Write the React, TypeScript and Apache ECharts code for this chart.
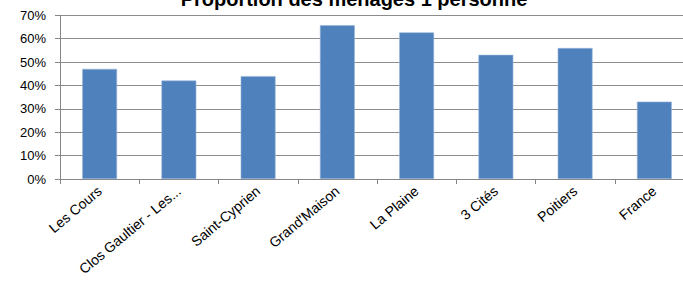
import React, { useEffect, useRef } from "react";
import * as echarts from "echarts";

const categories = ["Les Cours", "Clos Gaultier - Les...", "Saint-Cyprien", "Grand'Maison", "La Plaine", "3 Cités", "Poitiers", "France"];
const values = [0.471, 0.421, 0.44, 0.658, 0.627, 0.531, 0.56, 0.331];
const titleText = "Proportion des ménages 1 personne";

export default function App() {
  const ref = useRef<HTMLDivElement>(null);
  useEffect(() => {
    const chart = echarts.init(ref.current!, null, { renderer: "svg" });
    const font = "'Liberation Sans', Arial, sans-serif";
    chart.setOption({
      animation: false,
      title: {
        text: titleText,
        left: 349,
        textAlign: "center",
        top: -16,
        textStyle: { fontFamily: font, fontSize: 20, fontWeight: "bold", color: "#000" },
      },
      grid: { left: 60, right: 0, top: 15.3, bottom: 102, containLabel: false },
      xAxis: {
        type: "category",
        data: categories,
        boundaryGap: true,
        axisLine: { lineStyle: { color: "#868686", width: 1 } },
        axisTick: { show: true, length: 5, alignWithLabel: false, lineStyle: { color: "#868686" } },
        axisLabel: { rotate: 40, fontFamily: font, fontSize: 14, color: "#000", margin: 10, interval: 0 },
      },
      yAxis: {
        type: "value",
        min: 0,
        max: 0.7,
        interval: 0.1,
        axisLine: { show: true, lineStyle: { color: "#868686", width: 1 } },
        axisTick: { show: true, length: 5, lineStyle: { color: "#868686" } },
        splitLine: { show: true, lineStyle: { color: "#8c8c8c", width: 1 } },
        axisLabel: {
          fontFamily: font,
          fontSize: 13,
          color: "#000",
          margin: 14,
          formatter: (v: number) => Math.round(v * 100) + "%",
        },
      },
      series: [
        {
          type: "bar",
          data: values,
          barWidth: "44%",
          itemStyle: { color: "#4F81BD", borderColor: "#9BB7DA", borderWidth: 0.6 },
        },
      ],
    });
    return () => chart.dispose();
  }, []);
  return (
    <div style={{ position: "absolute", left: 0, top: 0, width: 683, height: 281, overflow: "hidden" }}>
      <div ref={ref} style={{ width: 694, height: 281 }} />
    </div>
  );
}
